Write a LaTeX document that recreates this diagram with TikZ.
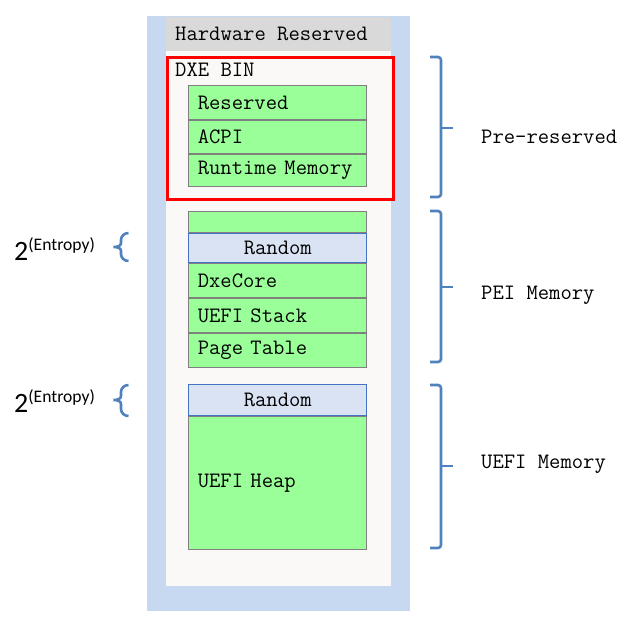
\documentclass[tikz,border=0pt]{standalone}
\usepackage{fontspec}
\newfontfamily\calib{Carlito}
\usetikzlibrary{positioning}

\definecolor{bgblue}{HTML}{C6D9F0}
\definecolor{paper}{HTML}{FAF9F7}
\definecolor{hwgray}{HTML}{D9D9D9}
\definecolor{memgreen}{HTML}{9AFF99}
\definecolor{rndfill}{HTML}{DAE3F3}
\definecolor{rndline}{HTML}{4472C4}
\definecolor{brackblue}{HTML}{4F81BD}
\newcommand\mono{\fontsize{22}{24}\selectfont\ttfamily}

\tikzset{
	cell/.style={draw=gray, fill=memgreen, line width=1pt, minimum height=#1, text width=160pt, inner xsep=9pt, inner ysep=0pt, align=left, font=\mono},
	rnd/.style={cell=#1, draw=rndline, fill=rndfill, align=center},
	rbrack/.style={draw=brackblue, line width=2.6pt, rounded corners=3pt},
	lbrace/.style={draw=brackblue, line width=2.6pt},
	entropy/.style={anchor=base west, inner sep=0pt, font=\calib\fontsize{28}{30}\selectfont}
}

\begin{document}
\begin{tikzpicture}[x=1pt, y=-1pt]
	\useasboundingbox (0,0) rectangle (629,619);

	% background column
	\fill [bgblue] (147,16) rectangle (410,611);
	\fill [paper] (166,51) rectangle (391,586);
	\fill [hwgray] (166,17) rectangle (391,51);
	\node [anchor=west, inner sep=0pt, font=\mono] (hw) at (175,34) {Hardware Reserved};

	% DXE BIN
	\node [draw=red, line width=2.7pt, fill=paper, anchor=north west, minimum width=226pt, minimum height=142pt] (dxe) at (166,56) {};
	\node [anchor=base west, inner sep=0pt, font=\mono] (dxelabel) at (175,76) {DXE BIN};
	\node [cell=34pt, anchor=north west] (resv) at (188.3,85) {Reserved};
	\node [cell=33pt, below=0pt of resv] (acpi) {ACPI};
	\node [cell=32pt, below=0pt of acpi] (rtmem) {Runtime Memory};

	% PEI memory
	\node [cell=21pt, anchor=north west] (peitop) at (188.3,211) {};
	\node [rnd=29pt, below=0pt of peitop] (rnd1) {Random};
	\node [cell=34pt, below=0pt of rnd1] (dxecore) {DxeCore};
	\node [cell=34pt, below=0pt of dxecore] (stack) {UEFI Stack};
	\node [cell=34pt, below=0pt of stack] (ptable) {Page Table};

	% UEFI memory
	\node [rnd=31pt, anchor=north west] (rnd2) at (188.3,384.3) {Random};
	\node [cell=133pt, below=0pt of rnd2] (heap) {UEFI Heap};

	% entropy braces
	\node [entropy] (ent1) at (14,260) {2\raisebox{10pt}{\fontsize{17.6}{20}\selectfont(Entropy)}};
	\node [entropy] (ent2) at (14,412) {2\raisebox{10pt}{\fontsize{17.6}{20}\selectfont(Entropy)}};
	\draw [lbrace] (128.5,233) to[out=180,in=90] (121,240) -- (121,243) to[out=-90,in=0] (113.5,247)
		to[out=0,in=90] (121,251) -- (121,254) to[out=-90,in=180] (128.5,261);
	\draw [lbrace] (128.5,385) to[out=180,in=90] (121,392) -- (121,396) to[out=-90,in=0] (113.5,400)
		to[out=0,in=90] (121,404) -- (121,409) to[out=-90,in=180] (128.5,416);

	% region brackets
	\draw [rbrack] (430,57) -- (441,57) -- (441,197) -- (430,197);
	\draw [rbrack] (441,128) -- (453,128);
	\draw [rbrack] (430,211) -- (441,211) -- (441,362) -- (430,362);
	\draw [rbrack] (441,287) -- (453,287);
	\draw [rbrack] (430,385) -- (441,385) -- (441,548) -- (430,548);
	\draw [rbrack] (441,466) -- (453,466);

	\node [anchor=west, inner sep=0pt, font=\mono] (prelabel) at (481,137) {Pre-reserved};
	\node [anchor=west, inner sep=0pt, font=\mono] (peilabel) at (481,295) {PEI Memory};
	\node [anchor=west, inner sep=0pt, font=\mono] (uefilabel) at (481,464) {UEFI Memory};
\end{tikzpicture}
\end{document}
